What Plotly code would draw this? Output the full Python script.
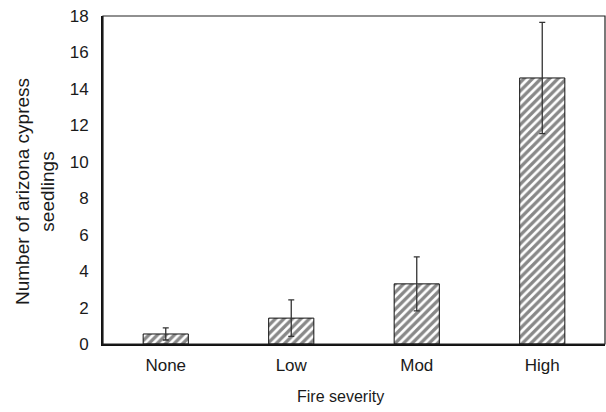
import plotly.graph_objects as go

categories = ["None", "Low", "Mod", "High"]
means = [0.55, 1.42, 3.3, 14.6]
errors = [0.33, 1.0, 1.48, 3.05]
y_ticks = [0, 2, 4, 6, 8, 10, 12, 14, 16, 18]

fig = go.Figure()
fig.add_trace(go.Bar(
    x=categories, y=means, width=0.36,
    marker=dict(color="white", line=dict(color="#111", width=1),
                pattern=dict(shape="/", fgcolor="#111", bgcolor="white", size=6, solidity=0.55)),
    error_y=dict(type="data", array=errors, visible=True, color="#333", thickness=1.3, width=3),
))

font = "Liberation Sans, Arial, sans-serif"
fig.update_layout(
    width=606, height=412,
    margin=dict(l=103, r=1, t=16, b=68),
    paper_bgcolor="white", plot_bgcolor="white",
    showlegend=False,
    font=dict(family=font, size=17, color="#1a1a1a"),
    xaxis=dict(range=[-0.5, 3.5], showline=True, linecolor="#111", linewidth=2,
               ticks="", showgrid=False, zeroline=False, ticklabelstandoff=5,
               tickfont=dict(size=17)),
    yaxis=dict(range=[0, 18], tickvals=y_ticks, showline=True, linecolor="#111", linewidth=2,
               ticks="", showgrid=False, zeroline=False, ticklabelstandoff=9,
               tickfont=dict(size=17)),
    shapes=[dict(type="rect", xref="paper", yref="paper", x0=0, x1=1, y0=0, y1=1,
                 line=dict(color="#222", width=1.2), layer="above")],
    annotations=[
        dict(text="Fire severity", xref="paper", yref="paper",
             x=(340 - 103) / 502, y=(344 - 396) / 328, xanchor="center", yanchor="middle",
             showarrow=False, font=dict(size=16)),
        dict(text="Number of arizona cypress<br>seedlings", xref="paper", yref="paper",
             x=(35 - 103) / 502, y=(344 - 192) / 328, xanchor="center", yanchor="middle", textangle=-90,
             showarrow=False, font=dict(size=19)),
    ],
)

fig.write_html("out.html")
